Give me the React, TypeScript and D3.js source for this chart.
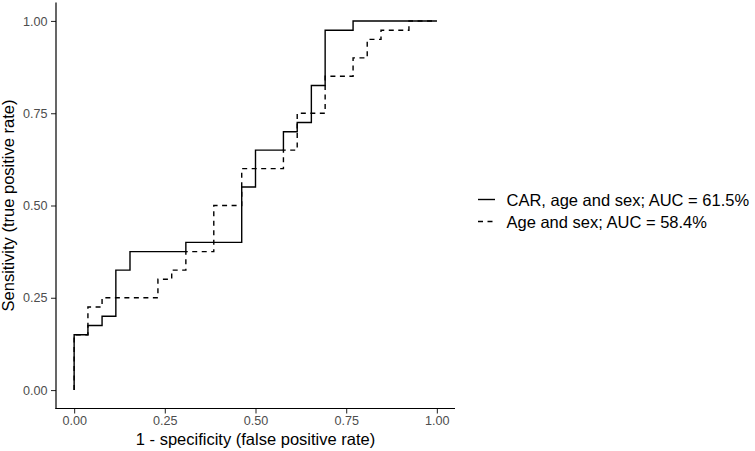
import React, { useEffect, useRef } from "react";
import * as d3 from "d3";

// ROC vertices (step-before): false positive rate and true positive rate
const carFpr = [0, 0.038, 0.077, 0.115, 0.154, 0.308, 0.462, 0.5, 0.577, 0.615, 0.654, 0.692, 0.769, 1];
const carTpr = [0, 0.15, 0.175, 0.2, 0.325, 0.375, 0.4, 0.55, 0.65, 0.7, 0.725, 0.825, 0.975, 1];
const ageFpr = [0, 0.038, 0.077, 0.231, 0.269, 0.308, 0.385, 0.462, 0.577, 0.615, 0.692, 0.769, 0.808, 0.846, 0.923, 1];
const ageTpr = [0, 0.15, 0.225, 0.25, 0.3, 0.325, 0.375, 0.5, 0.6, 0.65, 0.75, 0.85, 0.9, 0.95, 0.975, 1];
const seriesLabels = ["CAR, age and sex; AUC = 61.5%", "Age and sex; AUC = 58.4%"];
const tickValues = [0, 0.25, 0.5, 0.75, 1];
const xTitle = "1 - specificity (false positive rate)";
const yTitle = "Sensitivity (true positive rate)";

const W = 755, H = 451;
const FONT = "'Liberation Sans', Arial, Helvetica, sans-serif";
const DASH = "5,4.5";

export default function App() {
  const ref = useRef<SVGSVGElement | null>(null);
  useEffect(() => {
    const svg = d3.select(ref.current);
    svg.selectAll("*").remove();
    const left = 56, right = 455, top = 2.5, bottom = 408.5;
    const x = d3.scaleLinear().domain([-0.05, 1.05]).range([left, right]);
    const y = d3.scaleLinear().domain([-0.05, 1.05]).range([bottom, top]);

    const line = d3.line<[number, number]>()
      .x(d => x(d[0])).y(d => y(d[1])).curve(d3.curveStepBefore);

    const series = [
      { fpr: ageFpr, tpr: ageTpr, dash: DASH },
      { fpr: carFpr, tpr: carTpr, dash: null as string | null },
    ];
    series.forEach(s => {
      const pts = s.fpr.map((f, i) => [f, s.tpr[i]] as [number, number]);
      svg.append("path").attr("d", line(pts) as string)
        .attr("fill", "none").attr("stroke", "#000").attr("stroke-width", 1.4)
        .attr("stroke-dasharray", s.dash);
    });

    // axes
    const fmt = d3.format(".2f");
    const gx = svg.append("g").attr("transform", `translate(0,${bottom})`)
      .call(d3.axisBottom(x).tickValues(tickValues).tickFormat(d => fmt(d as number)).tickSize(5).tickPadding(3));
    const gy = svg.append("g").attr("transform", `translate(${left},0)`)
      .call(d3.axisLeft(y).tickValues(tickValues).tickFormat(d => fmt(d as number)).tickSize(5).tickPadding(3.5));
    [gx, gy].forEach(g => {
      g.select(".domain").remove();
      g.selectAll(".tick line").attr("stroke", "#333").attr("stroke-width", 1.1);
      g.selectAll(".tick text").attr("fill", "#4d4d4d").style("font-size", "12.6px").style("font-family", FONT);
    });
    gx.selectAll(".tick text").attr("dy", "0.71em");
    svg.append("line").attr("x1", left).attr("x2", left).attr("y1", top).attr("y2", bottom + 0.6)
      .attr("stroke", "#000").attr("stroke-width", 1.2);
    svg.append("line").attr("x1", left - 0.6).attr("x2", right).attr("y1", bottom).attr("y2", bottom)
      .attr("stroke", "#000").attr("stroke-width", 1.2);

    // titles
    svg.append("text").attr("x", (left + right) / 2).attr("y", 445)
      .attr("text-anchor", "middle").style("font-size", "16.5px").style("font-family", FONT).text(xTitle);
    svg.append("text").attr("transform", `translate(14,${(top + bottom) / 2}) rotate(-90)`)
      .attr("text-anchor", "middle").style("font-size", "16.5px").style("font-family", FONT).text(yTitle);

    // legend
    const keyY = [199.5, 221.5];
    const dashes = [null, DASH];
    seriesLabels.forEach((lab, i) => {
      svg.append("line").attr("x1", 478).attr("x2", 495).attr("y1", keyY[i]).attr("y2", keyY[i])
        .attr("stroke", "#000").attr("stroke-width", 1.4).attr("stroke-dasharray", dashes[i]);
      svg.append("text").attr("x", 506.5).attr("y", keyY[i] + 6.3)
        .style("font-size", "16.5px").style("font-family", FONT).text(lab);
    });
  }, []);
  return (
    <svg ref={ref} width={W} height={H} style={{ position: "absolute", left: 0, top: 0, background: "#fff" }} />
  );
}
